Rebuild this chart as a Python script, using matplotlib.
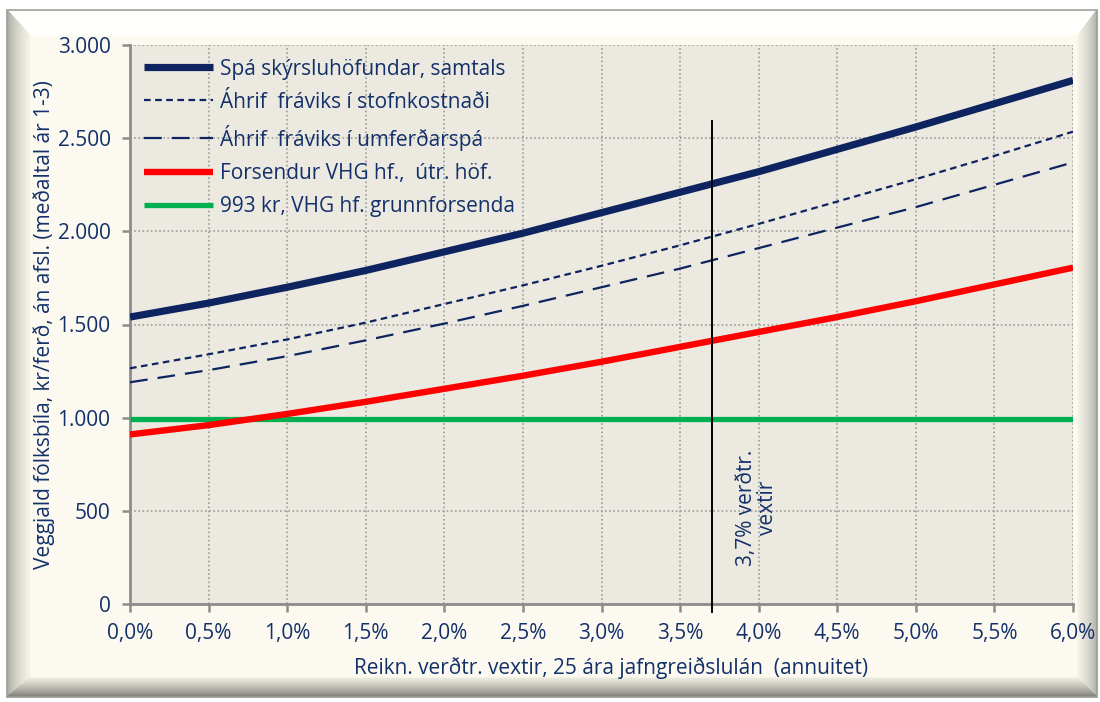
import numpy as np
import matplotlib
matplotlib.use("Agg")
import matplotlib.pyplot as plt
from matplotlib.patches import Polygon
from matplotlib.colors import to_rgb
from matplotlib.ticker import FixedLocator, FuncFormatter

# --- data -------------------------------------------------------------
rates = [0.0, 0.5, 1.0, 1.5, 2.0, 2.5, 3.0, 3.5, 4.0, 4.5, 5.0, 5.5, 6.0]

spa_samtals = [1540, 1615, 1700, 1790, 1890, 1990, 2100, 2210, 2320, 2440, 2560, 2685, 2810]
frav_stofnkostn = [1265, 1340, 1420, 1510, 1610, 1710, 1815, 1925, 2040, 2160, 2280, 2405, 2535]
frav_umferd = [1190, 1255, 1330, 1415, 1505, 1600, 1700, 1800, 1910, 2020, 2130, 2250, 2370]
forsendur_vhg = [910, 960, 1020, 1085, 1155, 1225, 1300, 1380, 1460, 1540, 1625, 1715, 1805]
grunnforsenda = [993] * len(rates)

labels = [
    "Spá skýrsluhöfundar, samtals",
    "Áhrif  fráviks í stofnkostnaði",
    "Áhrif  fráviks í umferðarspá",
    "Forsendur VHG hf.,  útr. höf.",
    "993 kr, VHG hf. grunnforsenda",
]

marker_rate = 3.7
marker_top = 2590
marker_text = "3,7% verðtr.\nvextir"

y_ticks = [0, 500, 1000, 1500, 2000, 2500, 3000]
x_ticks = rates

y_label = "Veggjald fólksbíla, kr/ferð, án afsl. (meðaltal ár 1-3)"
x_label = "Reikn. verðtr. vextir, 25 ára jafngreiðslulán  (annuitet)"

# --- style ------------------------------------------------------------
NAVY = "#0E2460"
TEXT = "#13306A"
RED = "#FF0000"
GREEN = "#00B050"
GRID = "#9A9A9A"
SPINE = "#8C8C8C"
PLOT_BG = "#ECEAE0"
CREAM = "#FCFAF0"
FS = 15

plt.rcParams["font.family"] = ["Open Sans", "DejaVu Sans"]

W, H = 1100, 702
fig = plt.figure(figsize=(W / 100, H / 100), dpi=100)
fig.patch.set_facecolor("white")

# --- bevelled frame drawn in pixel coordinates ------------------------
bg = fig.add_axes([0, 0, 1, 1], zorder=-5)
bg.set_xlim(0, W)
bg.set_ylim(H, 0)
bg.axis("off")

ox0, oy0, ox1, oy1 = 7, 10, 1097, 697      # outer edge
ix0, iy0, ix1, iy1 = 30, 35, 1078, 678     # inner edge


def lerp(a, b, t):
    return (a[0] + (b[0] - a[0]) * t, a[1] + (b[1] - a[1]) * t)


def mix(c0, c1, t):
    a, b = np.array(to_rgb(c0)), np.array(to_rgb(c1))
    return tuple(a + (b - a) * t)


def bevel(o_a, o_b, i_a, i_b, c_out, c_in, n=30, gamma=1.0):
    for k in range(n):
        t0, t1 = k / n, (k + 1) / n
        p = [lerp(o_a, i_a, t0), lerp(o_b, i_b, t0), lerp(o_b, i_b, t1), lerp(o_a, i_a, t1)]
        c = mix(c_out, c_in, ((t0 + t1) / 2) ** gamma)
        bg.add_patch(Polygon(p, closed=True, facecolor=c, edgecolor=c, lw=0.6))


bg.add_patch(Polygon([(ix0, iy0), (ix1, iy0), (ix1, iy1), (ix0, iy1)], facecolor=CREAM, edgecolor="none"))
bevel((ox0, oy0), (ox1, oy0), (ix0, iy0), (ix1, iy0), "#FFFFFF", "#FFFFFC")                  # top
bevel((ox0, oy0), (ox0, oy1), (ix0, iy0), (ix0, iy1), "#9C9C94", "#F6F4E8", gamma=0.6)       # left
bevel((ox1, oy0), (ox1, oy1), (ix1, iy0), (ix1, iy1), "#A4A49C", "#F4F2E6", gamma=0.6)       # right
bevel((ox0, oy1), (ox1, oy1), (ix0, iy1), (ix1, iy1), "#6C6C66", "#ECEADE", gamma=0.7)       # bottom
bg.add_patch(Polygon([(ox0, oy0), (ox1, oy0), (ox1, oy1), (ox0, oy1)], closed=True,
                     facecolor="none", edgecolor="#A0A09A", lw=1.2))

# --- chart ------------------------------------------------------------
ax = fig.add_axes([130 / W, 1 - 604 / H, (1073 - 130) / W, (604 - 45) / H])
ax.set_facecolor(PLOT_BG)

ax.set_xlim(0, 6)
ax.set_ylim(0, 3000)

ax.plot(rates, spa_samtals, color=NAVY, lw=5.2, solid_capstyle="butt", label=labels[0], zorder=5)
ax.plot(rates, frav_stofnkostn, color=NAVY, lw=1.6, dashes=(3, 2), label=labels[1], zorder=5)
ax.plot(rates, frav_umferd, color=NAVY, lw=1.6, dashes=(8, 4.5), label=labels[2], zorder=5)
ax.plot(rates, forsendur_vhg, color=RED, lw=4.6, solid_capstyle="butt", label=labels[3], zorder=5)
ax.plot(rates, grunnforsenda, color=GREEN, lw=3.8, solid_capstyle="butt", label=labels[4], zorder=4)

ax.plot([marker_rate, marker_rate], [-45, marker_top], color="black", lw=1.4, zorder=6, clip_on=False)
ax.text(marker_rate + 0.29, 515, marker_text, rotation=90, ha="center", va="center",
        color=TEXT, fontsize=FS, linespacing=1.0, zorder=7)

ax.xaxis.set_major_locator(FixedLocator(x_ticks))
ax.yaxis.set_major_locator(FixedLocator(y_ticks))
ax.xaxis.set_major_formatter(FuncFormatter(lambda v, p: f"{v:.1f}".replace(".", ",") + "%"))
ax.yaxis.set_major_formatter(FuncFormatter(lambda v, p: f"{int(v):,}".replace(",", ".")))

ax.grid(True, color=GRID, linestyle=(0, (1.0, 1.5)), lw=1.2, zorder=1)
ax.set_axisbelow(True)
for s in ("top", "right"):
    ax.spines[s].set_visible(False)
for s in ("left", "bottom"):
    ax.spines[s].set_color(SPINE)
    ax.spines[s].set_linewidth(2)
ax.tick_params(axis="both", direction="out", length=6, width=1.8, color=SPINE,
               labelcolor=TEXT, labelsize=FS)
ax.tick_params(axis="y", pad=8)
ax.tick_params(axis="x", pad=8)

fig.text(44 / W, 1 - 325 / H, y_label, rotation=90, ha="center", va="center", color=TEXT, fontsize=FS)
fig.text(611 / W, 1 - 668 / H, x_label, ha="center", va="center", color=TEXT, fontsize=FS)

leg = ax.legend(loc="upper left", bbox_to_anchor=(0.0, 1.0), frameon=False, fontsize=FS,
                handlelength=3.35, handletextpad=0.33, labelspacing=0.58, borderaxespad=0.25,
                labelcolor=TEXT)

fig.savefig("out.png", dpi=100, facecolor=fig.get_facecolor())
